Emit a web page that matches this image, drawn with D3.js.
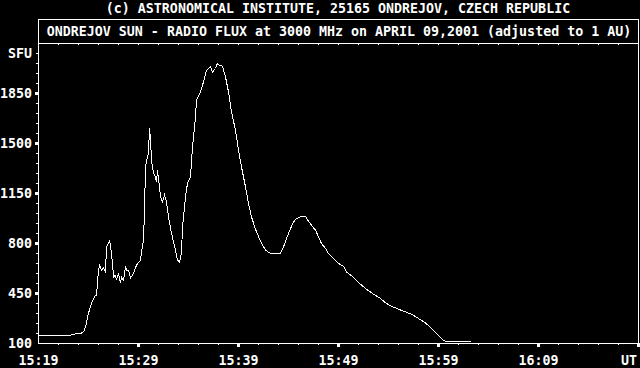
<!DOCTYPE html>
<html>
<head>
<meta charset="utf-8">
<script src="https://cdn.jsdelivr.net/npm/d3@7"></script>
<style>
body { margin: 0; background: #000; }
text { font-family: "DejaVu Sans Mono", monospace; font-weight: bold; font-size: 13.3px; fill: #fff; }
</style>
</head>
<body>
<script>
// minutes after 15:19 UT
var minutes = [0,3.2,3.4,4.2,4.5,4.7,5.0,5.3,5.7,5.8,
    6.0,6.1,6.3,6.5,6.7,6.8,7.1,7.2,7.4,7.5,
    7.7,7.8,8.0,8.2,8.3,8.5,8.7,8.8,9.0,9.2,
    9.5,9.8,10.2,10.3,10.5,10.6,10.7,10.9,11.0,11.1,
    11.2,11.3,11.5,11.7,11.8,11.9,12.1,12.2,12.4,12.6,
    12.8,13.0,13.3,13.7,13.9,14.1,14.3,14.4,14.7,14.9,
    15.2,15.4,15.7,15.8,16.2,16.5,16.8,17.2,17.4,17.7,
    17.9,18.1,18.4,18.7,19.0,19.3,19.7,20.0,20.3,20.7,
    21.0,21.3,21.7,22.2,22.7,23.2,23.7,24.2,24.5,24.8,
    25.2,25.5,25.8,26.2,26.7,27.0,27.3,27.7,28.0,28.3,
    28.7,29.0,29.5,30.0,30.5,30.8,31.5,32.2,32.8,33.5,
    34.2,34.7,35.3,36.0,36.7,37.3,38.0,38.7,39.3,40.0,
    40.5,40.8,43.2];

// flux in SFU
var sfu = [158,158,165,170,181,216,312,382,438,438,
    613,648,613,627,601,776,816,788,662,566,
    578,543,592,522,566,543,641,613,613,557,
    592,648,683,741,823,1033,1336,1406,1432,1605,
    1537,1383,1292,1266,1231,1313,1196,1126,1091,1138,
    1091,986,872,753,683,671,732,916,1126,1222,
    1266,1476,1686,1803,1861,1931,2013,2036,2001,2025,
    2062,2048,2041,1966,1861,1721,1593,1453,1336,1196,
    1080,986,900,816,753,730,730,730,776,835,
    905,951,975,986,989,956,928,893,846,800,
    765,730,695,660,641,601,564,515,480,445,
    415,384,361,340,321,305,275,244,205,158,
    123,111,111];

var timeLabels = ["15:19", "15:29", "15:39", "15:49", "15:59", "16:09"];
var labelMinutes = [0, 10, 20, 30, 40, 50];
var sfuTicks = [100, 450, 800, 1150, 1500, 1850];

var m = { left: 38, right: 638, top: 43, bottom: 343, box: 19 };

var svg = d3.select("body").append("svg")
    .attr("width", 640)
    .attr("height", 368);

var x = d3.scaleLinear().domain([0, 60]).range([m.left, m.right]);
var y = d3.scaleLinear().domain([100, 2200]).range([m.bottom, m.top]);

// frame + title box
svg.append("rect")
    .attr("x", m.left + 0.5).attr("y", m.box + 0.5)
    .attr("width", m.right - m.left).attr("height", m.bottom - m.box)
    .attr("fill", "none").attr("stroke", "#fff")
    .attr("shape-rendering", "crispEdges");
svg.append("line")
    .attr("x1", m.left).attr("x2", m.right + 1)
    .attr("y1", m.top + 0.5).attr("y2", m.top + 0.5)
    .attr("stroke", "#fff").attr("shape-rendering", "crispEdges");

var minorX = d3.range(2, 60, 2);

// small ticks under the title line
svg.append("g")
    .attr("transform", "translate(0," + m.top + ")")
    .call(d3.axisBottom(x).tickValues(minorX).tickSize(2).tickFormat(""))
    .call(function(g) { g.select(".domain").remove(); })
    .selectAll("line").attr("stroke", "#fff");

// bottom ticks
svg.append("g")
    .attr("transform", "translate(0," + m.bottom + ")")
    .call(d3.axisBottom(x).tickValues(minorX).tickSize(2).tickFormat(""))
    .call(function(g) { g.select(".domain").remove(); })
    .selectAll("line").attr("stroke", "#fff");

svg.append("g").selectAll("rect")
    .data([10, 20, 30, 40, 50, 60])
    .enter().append("rect")
    .attr("x", function(d) { return x(d) - 1; })
    .attr("y", m.bottom)
    .attr("width", 3).attr("height", 4)
    .attr("fill", "#fff");

// left ticks
svg.append("g")
    .attr("transform", "translate(" + m.left + ",0)")
    .call(d3.axisLeft(y).tickValues(d3.range(170, 2131, 70)).tickSize(2).tickFormat(""))
    .call(function(g) { g.select(".domain").remove(); })
    .selectAll("line").attr("stroke", "#fff");

svg.append("g").selectAll("rect")
    .data(sfuTicks.slice(1))
    .enter().append("rect")
    .attr("x", m.left - 3)
    .attr("y", function(d) { return y(d) - 1; })
    .attr("width", 3).attr("height", 3)
    .attr("fill", "#fff");

// labels
svg.append("g").selectAll("text")
    .data(timeLabels)
    .enter().append("text")
    .attr("x", function(d, i) { return x(labelMinutes[i]) + 0.5; })
    .attr("y", 365)
    .attr("text-anchor", "middle")
    .text(function(d) { return d; });

svg.append("text")
    .attr("x", 637).attr("y", 365)
    .attr("text-anchor", "end")
    .text("UT");

svg.append("g").selectAll("text")
    .data(sfuTicks)
    .enter().append("text")
    .attr("x", 32)
    .attr("y", function(d) { return y(d) + 5; })
    .attr("text-anchor", "end")
    .text(function(d) { return d; });

svg.append("text")
    .attr("x", 32).attr("y", y(2130) + 5)
    .attr("text-anchor", "end")
    .text("SFU");

svg.append("text")
    .attr("x", 338).attr("y", 13)
    .attr("text-anchor", "middle")
    .text("(c) ASTRONOMICAL INSTITUTE, 25165 ONDREJOV, CZECH REPUBLIC");

svg.append("text")
    .attr("x", 339).attr("y", 36)
    .attr("text-anchor", "middle")
    .text("ONDREJOV SUN - RADIO FLUX at 3000 MHz on APRIL 09,2001 (adjusted to 1 AU)");

// flux curve
var line = d3.line()
    .x(function(d, i) { return x(minutes[i]); })
    .y(function(d) { return y(d); });

svg.append("path")
    .datum(sfu)
    .attr("transform", "translate(0.5,0.5)")
    .attr("d", line)
    .attr("fill", "none")
    .attr("stroke", "#fff")
    .attr("stroke-width", 1)
    .attr("shape-rendering", "crispEdges");
</script>
</body>
</html>
